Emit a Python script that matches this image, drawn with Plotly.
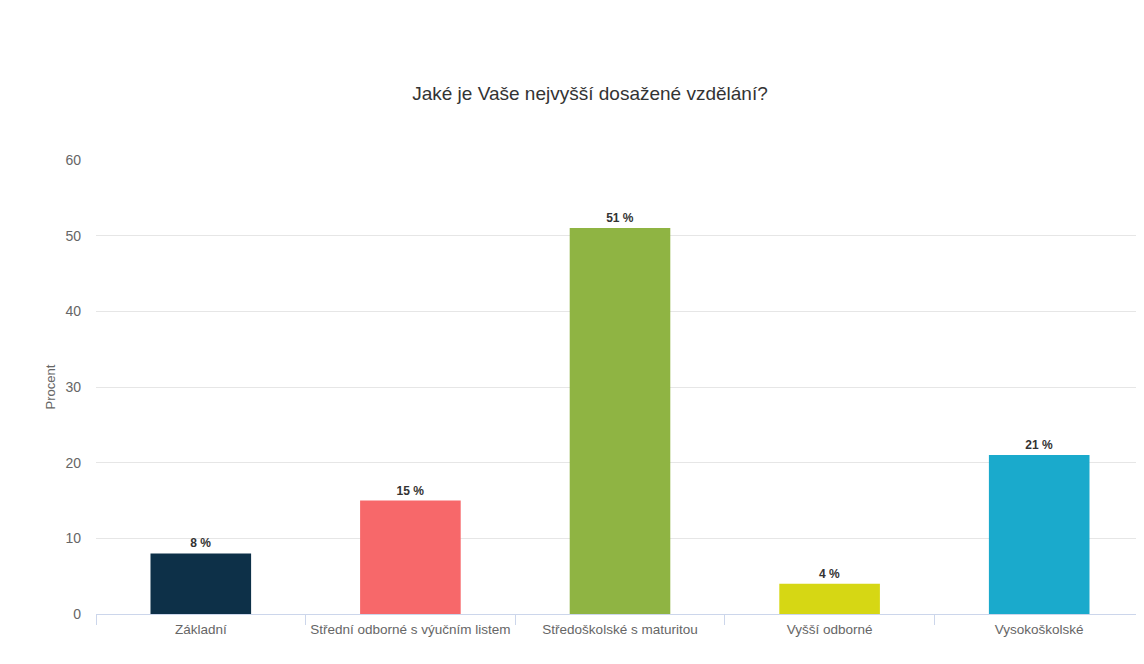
import plotly.graph_objects as go

categories = ["Základní", "Střední odborné s výučním listem", "Středoškolské s maturitou",
              "Vyšší odborné", "Vysokoškolské"]
values = [8, 15, 51, 4, 21]
labels = ["8 %", "15 %", "51 %", "4 %", "21 %"]
colors = ["#0d3048", "#f7686a", "#8fb443", "#d6d714", "#1aaacc"]
y_ticks = [0, 10, 20, 30, 40, 50, 60]

FONT = "Arial, Liberation Sans, sans-serif"
W, H = 1136, 648

fig = go.Figure(go.Bar(
    x=categories, y=values, text=labels, textposition="outside",
    marker=dict(color=colors, line=dict(width=0)),
    textfont=dict(family=FONT, size=12, color="#333333", weight="bold"),
    cliponaxis=False, hoverinfo="x+y",
))

fig.update_layout(
    width=W, height=H,
    margin=dict(l=88, r=0, t=152, b=42),
    paper_bgcolor="white", plot_bgcolor="white",
    bargap=0.52,
    showlegend=False,
    font=dict(family=FONT, color="#666666", size=14),
    title=dict(text="Jaké je Vaše nejvyšší dosažené vzdělání?",
               x=582 / W, xanchor="center", xref="container",
               y=1 - 85 / H, yanchor="middle", yref="container",
               font=dict(family=FONT, size=19, color="#333333")),
)
fig.update_xaxes(
    showgrid=False, showline=True, linecolor="#ccd6eb", linewidth=1,
    ticks="outside", tickson="boundaries", ticklen=10, tickcolor="#ccd6eb",
    ticklabelstandoff=3, tickangle=0, automargin=False,
    tickfont=dict(size=13.5, color="#666666"),
)
fig.update_yaxes(
    range=[0, 60], tickvals=y_ticks, showgrid=True, gridcolor="#e6e6e6", gridwidth=1,
    zeroline=False, showline=False, ticks="", ticklabelstandoff=14,
    tickfont=dict(size=14, color="#666666"),
    title=dict(text="Procent", font=dict(size=13, color="#666666"), standoff=6),
)

fig.write_html("out.html")
